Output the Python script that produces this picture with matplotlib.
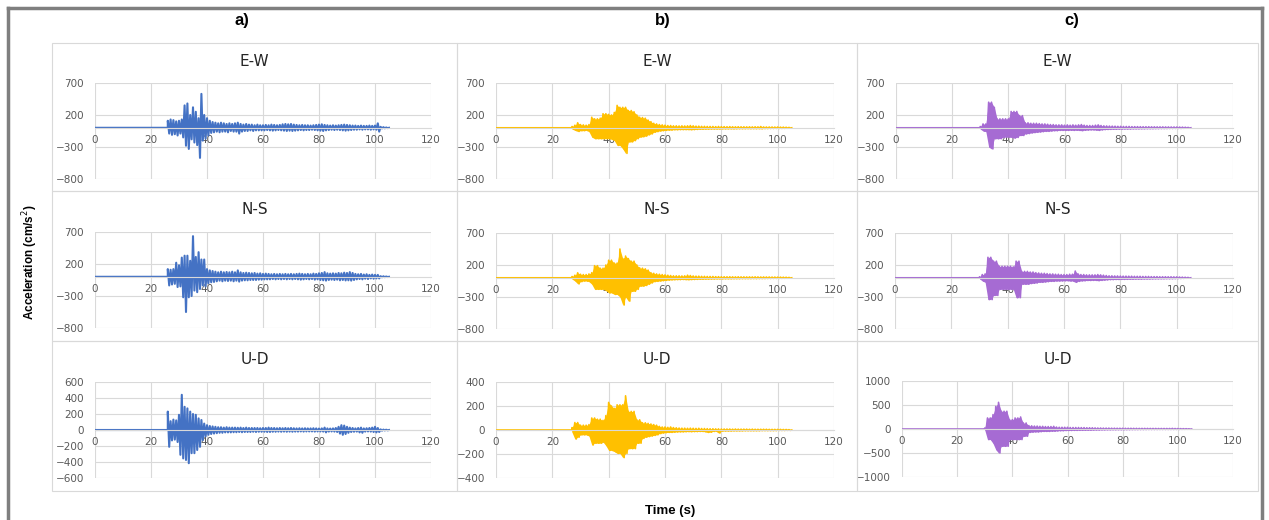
import matplotlib
matplotlib.use("Agg")
import matplotlib.pyplot as plt
from matplotlib.patches import Rectangle
from matplotlib.lines import Line2D

# peak values (cm/s2), one upper and one lower peak per second
# column a) starts at 26 s, b) at 27 s, c) at 30 s; all records stop at 105 s
a_start, b_start, c_start = 26, 27, 30
t_end = 105

a_ew_up = [110, 130, 120, 100, 110, 130, 350, 380, 200, 320,
           250, 150, 530, 200, 150, 110, 90, 80, 70, 80,
           70, 60, 70, 60, 70, 80, 60, 50, 60, 50,
           50, 40, 50, 40, 40, 45, 40, 50, 45, 40,
           45, 55, 60, 55, 60, 50, 45, 40, 45, 40,
           40, 35, 40, 45, 50, 55, 45, 40, 35, 40,
           35, 40, 45, 50, 45, 40, 35, 35, 30, 35,
           30, 30, 35, 30, 35, 70, 15, 10, 5]
a_ew_lo = [-90, -110, -100, -120, -90, -150, -280, -330, -180, -230,
           -270, -470, -200, -170, -120, -80, -70, -60, -70, -60,
           -60, -70, -50, -60, -60, -90, -60, -50, -50, -40,
           -50, -40, -40, -40, -40, -35, -40, -45, -40, -35,
           -40, -45, -50, -45, -50, -45, -40, -35, -40, -35,
           -35, -30, -35, -40, -45, -50, -40, -35, -30, -35,
           -30, -35, -40, -45, -40, -35, -30, -30, -25, -30,
           -25, -25, -30, -25, -30, -60, -10, -8, -5]

a_ns_up = [120, 110, 120, 220, 180, 300, 330, 330, 250, 635,
           310, 385, 270, 270, 120, 100, 90, 80, 70, 80,
           70, 75, 70, 80, 70, 100, 70, 60, 65, 60,
           55, 60, 50, 55, 45, 50, 45, 40, 45, 40,
           45, 40, 45, 40, 45, 40, 45, 50, 45, 40,
           45, 40, 50, 45, 55, 60, 73, 55, 50, 55,
           50, 60, 55, 65, 60, 73, 60, 45, 40, 45,
           35, 40, 30, 35, 30, 30, 10, 8, 5]
a_ns_lo = [-135, -120, -110, -160, -150, -320, -550, -320, -300, -215,
           -240, -190, -135, -150, -100, -85, -80, -70, -60, -70,
           -60, -65, -60, -70, -60, -75, -60, -55, -55, -50,
           -50, -50, -45, -45, -40, -40, -40, -35, -40, -35,
           -40, -35, -40, -35, -40, -35, -40, -45, -40, -35,
           -40, -35, -45, -40, -50, -55, -60, -50, -45, -50,
           -45, -55, -50, -57, -55, -60, -50, -40, -35, -40,
           -30, -35, -25, -30, -25, -25, -8, -6, -4]

a_ud_up = [230, 110, 130, 120, 190, 440, 290, 270, 230, 200,
           190, 145, 125, 80, 60, 50, 45, 40, 35, 35,
           30, 35, 30, 30, 30, 28, 30, 25, 30, 25,
           25, 25, 25, 22, 25, 25, 30, 25, 25, 22,
           25, 22, 25, 22, 25, 22, 20, 22, 20, 22,
           20, 20, 22, 20, 18, 20, 30, 20, 18, 20,
           25, 40, 60, 55, 40, 30, 25, 20, 25, 30,
           20, 22, 25, 30, 40, 25, 8, 5, 4]
a_ud_lo = [-210, -130, -120, -150, -310, -355, -375, -415, -290, -290,
           -250, -210, -125, -80, -60, -50, -45, -40, -35, -35,
           -30, -30, -30, -28, -28, -25, -28, -25, -25, -25,
           -22, -25, -22, -22, -22, -25, -25, -22, -22, -20,
           -22, -20, -22, -20, -22, -20, -20, -18, -20, -18,
           -18, -18, -20, -18, -18, -20, -30, -20, -18, -20,
           -25, -45, -60, -50, -35, -25, -22, -20, -30, -35,
           -20, -18, -20, -25, -30, -25, -8, -5, -4]

b_ew_up = [20, 40, 78, 50, 45, 40, 50, 165, 140, 140,
           150, 220, 220, 210, 200, 240, 350, 320, 320, 320,
           270, 270, 250, 200, 165, 160, 150, 120, 95, 70,
           60, 50, 45, 40, 35, 35, 30, 30, 28, 30,
           28, 30, 35, 30, 25, 25, 22, 22, 20, 20,
           20, 18, 20, 18, 18, 16, 18, 16, 15, 16,
           15, 15, 14, 15, 14, 15, 14, 20, 13, 12,
           12, 12, 11, 12, 10, 10, 8, 6]
b_ew_lo = [-20, -40, -57, -45, -45, -40, -60, -145, -170, -170,
           -170, -170, -170, -170, -180, -200, -275, -275, -330, -400,
           -220, -220, -200, -170, -145, -140, -130, -110, -95, -70,
           -60, -50, -45, -40, -35, -35, -30, -30, -28, -28,
           -28, -28, -30, -28, -25, -22, -22, -20, -20, -18,
           -18, -18, -18, -16, -16, -16, -15, -16, -15, -14,
           -14, -14, -13, -14, -13, -14, -13, -15, -12, -12,
           -11, -11, -10, -11, -10, -9, -7, -5]

b_ns_up = [20, 40, 78, 55, 50, 50, 60, 80, 190, 190,
           150, 150, 200, 275, 275, 230, 230, 450, 300, 340,
           300, 260, 260, 200, 155, 150, 140, 120, 80, 70,
           60, 55, 50, 45, 40, 35, 30, 30, 30, 28,
           30, 40, 35, 28, 25, 25, 22, 22, 20, 20,
           20, 18, 18, 16, 16, 15, 16, 15, 14, 15,
           14, 14, 13, 14, 13, 14, 13, 12, 13, 12,
           12, 11, 11, 10, 10, 9, 8, 6]
b_ns_lo = [-20, -50, -95, -60, -50, -50, -60, -100, -180, -180,
           -180, -180, -200, -235, -235, -260, -260, -300, -425, -300,
           -365, -210, -210, -180, -130, -130, -120, -100, -80, -60,
           -55, -50, -45, -40, -35, -32, -30, -28, -28, -26,
           -28, -30, -28, -26, -24, -22, -22, -20, -20, -18,
           -18, -17, -17, -16, -15, -15, -15, -14, -14, -14,
           -13, -13, -13, -13, -12, -13, -12, -12, -12, -11,
           -11, -10, -10, -10, -9, -8, -7, -5]

b_ud_up = [20, 62, 62, 40, 40, 40, 45, 100, 100, 90,
           90, 80, 120, 230, 200, 180, 210, 210, 210, 285,
           155, 155, 155, 85, 85, 60, 60, 55, 50, 45,
           40, 30, 25, 25, 22, 25, 20, 18, 16, 15,
           15, 14, 15, 14, 13, 14, 12, 12, 11, 10,
           10, 9, 9, 8, 8, 8, 8, 7, 8, 7,
           7, 7, 7, 6, 7, 6, 6, 6, 6, 6,
           5, 5, 5, 5, 5, 4, 4, 3]
b_ud_lo = [-20, -75, -60, -40, -40, -40, -50, -125, -110, -110,
           -110, -100, -130, -170, -170, -180, -195, -195, -230, -195,
           -155, -155, -155, -110, -110, -70, -60, -55, -50, -45,
           -40, -30, -25, -22, -20, -20, -18, -16, -15, -15,
           -14, -13, -14, -13, -13, -12, -12, -14, -20, -18,
           -12, -10, -25, -9, -8, -8, -8, -7, -7, -7,
           -7, -6, -6, -6, -6, -6, -6, -5, -5, -5,
           -5, -5, -5, -4, -4, -4, -3, -3]

c_ew_up = [20, 60, 60, 400, 400, 320, 140, 140, 140, 140,
           140, 255, 255, 255, 190, 190, 78, 78, 70, 70,
           70, 65, 60, 60, 55, 50, 50, 45, 45, 45,
           40, 45, 40, 45, 40, 45, 50, 40, 35, 35,
           35, 40, 45, 35, 30, 28, 26, 25, 24, 22,
           22, 20, 20, 20, 18, 18, 18, 17, 16, 16,
           16, 15, 15, 14, 14, 14, 13, 13, 12, 12,
           12, 11, 10, 8, 6]
c_ew_lo = [-20, -50, -60, -300, -330, -170, -170, -170, -150, -145,
           -145, -150, -160, -150, -120, -120, -95, -90, -80, -75,
           -70, -65, -60, -55, -55, -50, -45, -45, -40, -40,
           -40, -40, -38, -40, -38, -40, -45, -38, -35, -32,
           -32, -35, -40, -32, -28, -26, -24, -22, -22, -20,
           -20, -18, -18, -18, -16, -16, -16, -15, -15, -14,
           -14, -14, -13, -13, -12, -12, -12, -11, -11, -10,
           -10, -10, -8, -6, -5]

c_ns_up = [15, 50, 60, 320, 320, 260, 260, 180, 180, 180,
           180, 180, 170, 260, 260, 100, 100, 100, 90, 90,
           80, 75, 70, 70, 65, 60, 60, 55, 55, 50,
           50, 50, 55, 55, 105, 60, 50, 50, 45, 45,
           45, 45, 50, 45, 40, 35, 30, 30, 28, 28,
           26, 25, 25, 24, 24, 22, 22, 22, 20, 20,
           20, 18, 18, 18, 16, 16, 16, 15, 15, 14,
           14, 12, 10, 8, 6]
c_ns_lo = [-15, -50, -70, -340, -340, -275, -275, -180, -180, -180,
           -180, -180, -180, -310, -310, -100, -100, -100, -90, -85,
           -80, -70, -70, -65, -60, -55, -55, -50, -50, -48,
           -46, -45, -50, -50, -70, -55, -48, -46, -42, -42,
           -40, -40, -45, -40, -36, -32, -28, -28, -26, -26,
           -24, -24, -23, -22, -22, -20, -20, -20, -18, -18,
           -18, -17, -16, -16, -15, -15, -14, -14, -14, -13,
           -12, -11, -9, -7, -5]

c_ud_up = [20, 230, 230, 300, 470, 555, 370, 370, 370, 195,
           195, 230, 230, 250, 125, 125, 70, 65, 60, 60,
           55, 55, 50, 50, 50, 55, 40, 35, 35, 35,
           35, 30, 30, 30, 30, 28, 28, 25, 25, 25,
           22, 20, 20, 18, 18, 18, 16, 16, 15, 15,
           15, 14, 14, 14, 13, 13, 12, 12, 12, 12,
           11, 11, 11, 10, 10, 10, 10, 10, 12, 9,
           9, 8, 7, 6, 4]
c_ud_lo = [-20, -220, -220, -300, -430, -500, -360, -360, -360, -220,
           -220, -220, -220, -220, -150, -150, -70, -65, -60, -60,
           -55, -50, -50, -50, -45, -45, -40, -35, -35, -32,
           -30, -30, -28, -28, -26, -26, -25, -24, -24, -22,
           -20, -20, -18, -18, -16, -16, -15, -15, -14, -14,
           -14, -13, -13, -12, -12, -12, -11, -11, -11, -10,
           -10, -10, -10, -9, -9, -9, -9, -9, -9, -8,
           -8, -7, -6, -5, -4]

components = ["E-W", "N-S", "U-D"]
col_labels = ["a)", "b)", "c)"]
col_colors = ["#4472C4", "#FFC000", "#A66BD3"]
x_ticks = [0, 20, 40, 60, 80, 100, 120]
y_ticks_ew_ns = [-800, -300, 200, 700]
y_ticks_ud = [[-600, -400, -200, 0, 200, 400, 600],
              [-400, -200, 0, 200, 400],
              [-1000, -500, 0, 500, 1000]]

records = [[(a_start, a_ew_up, a_ew_lo), (a_start, a_ns_up, a_ns_lo), (a_start, a_ud_up, a_ud_lo)],
           [(b_start, b_ew_up, b_ew_lo), (b_start, b_ns_up, b_ns_lo), (b_start, b_ud_up, b_ud_lo)],
           [(c_start, c_ew_up, c_ew_lo), (c_start, c_ns_up, c_ns_lo), (c_start, c_ud_up, c_ud_lo)]]

W, H = 1269, 520
fig = plt.figure(figsize=(W / 100, H / 100), dpi=100)
fig.patch.set_facecolor("white")

bold_font = ["Liberation Sans Narrow", "Liberation Sans", "DejaVu Sans"]


def fig_box(l, t, r, b):
    return [l / W, 1 - b / H, (r - l) / W, (b - t) / H]


def trace(t0, up, lo):
    # flat line until the onset, then one upper and one lower peak per second
    xs = [0, t0]
    ys = [0, 0]
    for i in range(len(up)):
        xs += [t0 + i, t0 + i + 0.5]
        ys += [up[i], lo[i]]
    xs.append(t_end)
    ys.append(0)
    return xs, ys


# chart frames (pixels) and plot areas (pixels)
chart_cols = [(52, 457), (457, 857), (857, 1258)]
chart_rows = [(43, 191), (191, 341), (341, 491)]
label_x = [242, 663, 1072]
plot_x = [[(95, 431), (95, 431), (95, 431)],
          [(496, 834), (496, 834), (496, 834)],
          [(896, 1233), (895, 1233), (902, 1233)]]
plot_y = [[(83, 179), (232, 328), (382, 478)],
          [(83, 179), (233, 329), (382, 478)],
          [(83, 179), (233, 329), (381, 477)]]

# outer grey frame
fig.add_artist(Line2D([8 / W, 8 / W], [0, 1 - 8 / H], color="#7F7F7F", lw=2.5))
fig.add_artist(Line2D([1262 / W, 1262 / W], [0, 1 - 8 / H], color="#7F7F7F", lw=2.5))
fig.add_artist(Line2D([8 / W, 1262 / W], [1 - 8 / H, 1 - 8 / H], color="#7F7F7F", lw=2.5))

for c in range(3):
    cl, cr = chart_cols[c]
    fig.text(label_x[c] / W, 1 - 21 / H, col_labels[c], ha="center", va="center",
             fontsize=12, fontweight="bold", family=bold_font)
    for r in range(3):
        rt, rb = chart_rows[r]
        fig.add_artist(Rectangle((cl / W, 1 - rb / H), (cr - cl) / W, (rb - rt) / H,
                                 transform=fig.transFigure, fill=False,
                                 edgecolor="#D9D9D9", lw=0.8))
        fig.text((cl + cr) / 2 / W, 1 - (rt + 19) / H, components[r], ha="center",
                 va="center", fontsize=11, color="#262626")

        l, rr = plot_x[c][r]
        t, b = plot_y[c][r]
        ax = fig.add_axes(fig_box(l, t, rr, b))
        t0, up, lo = records[c][r]
        xs, ys = trace(t0, up, lo)
        if c > 0:
            # the b) and c) records are so dense they read as a solid band
            secs = [t0 + i for i in range(len(up))]
            ax.fill_between(secs, lo, up, color=col_colors[c], lw=0)
            ax.plot(xs, ys, color=col_colors[c], lw=1.2)
        else:
            ax.plot(xs, ys, color=col_colors[c], lw=1.5)

        ax.set_xlim(0, 120)
        ax.set_xticks(x_ticks)
        if r < 2:
            yt = y_ticks_ew_ns
        else:
            yt = y_ticks_ud[c]
        ax.set_ylim(yt[0], yt[-1])
        ax.set_yticks(yt)
        ax.set_axisbelow(True)
        ax.grid(True, color="#D9D9D9", lw=0.8)
        for s in ["top", "right", "left"]:
            ax.spines[s].set_visible(False)
        ax.spines["bottom"].set_position(("data", 0))
        ax.spines["bottom"].set_color("#D9D9D9")
        ax.tick_params(length=0, labelsize=7.5, labelcolor="#595959")
        ax.tick_params(axis="x", pad=5)
        ax.tick_params(axis="y", pad=8)
        ax.patch.set_alpha(0)

fig.text(30 / W, 1 - 262 / H, "Acceleration (cm/s$^2$)", rotation=90, ha="center",
         va="center", fontsize=8.5, fontweight="bold", family=bold_font)
fig.text(670 / W, 1 - 511 / H, "Time (s)", ha="center", va="center",
         fontsize=9.5, fontweight="bold", family=["Liberation Sans", "DejaVu Sans"])

plt.savefig("out.png", dpi=100)
